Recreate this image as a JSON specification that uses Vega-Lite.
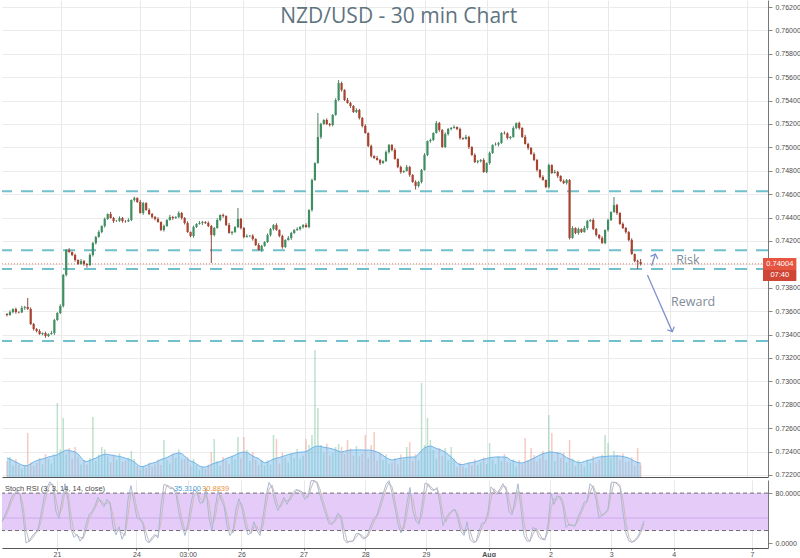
{
"$schema":"https://vega.github.io/schema/vega-lite/v6.json",
"padding":0,
"background":"white",
"spacing":0,
"config":{"view":{"stroke":null},"axis":{"labelFont":"Liberation Sans","labelColor":"#4d4d4d","title":null}},
"datasets":{"bars":[
{"u":0,"o":0.73575,"h":0.73583,"l":0.73555,"c":0.73567,"v":160,"m":190,"k":34,"d":36},
{"u":1,"o":0.73567,"h":0.73607,"l":0.73561,"c":0.73592,"v":200,"m":180,"k":45,"d":40},
{"u":2,"o":0.73592,"h":0.73623,"l":0.73582,"c":0.73618,"v":115,"m":165,"k":56,"d":51},
{"u":3,"o":0.73618,"h":0.73630,"l":0.73578,"c":0.73592,"v":180,"m":150,"k":71,"d":64},
{"u":4,"o":0.73592,"h":0.73598,"l":0.73581,"c":0.73589,"v":120,"m":135,"k":79,"d":75},
{"u":5,"o":0.73589,"h":0.73645,"l":0.73584,"c":0.73627,"v":80,"m":120,"k":84,"d":82},
{"u":6,"o":0.73627,"h":0.73645,"l":0.73611,"c":0.73635,"v":120,"m":112,"k":76,"d":80},
{"u":7,"o":0.73635,"h":0.73712,"l":0.73611,"c":0.73618,"v":440,"m":115,"k":45,"d":61},
{"u":8,"o":0.73618,"h":0.73632,"l":0.73481,"c":0.73490,"v":150,"m":130,"k":0,"d":23},
{"u":9,"o":0.73490,"h":0.73499,"l":0.73434,"c":0.73447,"v":110,"m":150,"k":3,"d":2},
{"u":10,"o":0.73447,"h":0.73455,"l":0.73418,"c":0.73430,"v":140,"m":165,"k":11,"d":7},
{"u":11,"o":0.73430,"h":0.73445,"l":0.73398,"c":0.73404,"v":190,"m":172,"k":16,"d":14},
{"u":12,"o":0.73404,"h":0.73418,"l":0.73394,"c":0.73413,"v":125,"m":180,"k":22,"d":19},
{"u":13,"o":0.73413,"h":0.73425,"l":0.73373,"c":0.73387,"v":230,"m":190,"k":46,"d":34},
{"u":14,"o":0.73387,"h":0.73410,"l":0.73379,"c":0.73404,"v":180,"m":200,"k":73,"d":60},
{"u":15,"o":0.73404,"h":0.73431,"l":0.73399,"c":0.73413,"v":135,"m":208,"k":89,"d":81},
{"u":16,"o":0.73413,"h":0.73534,"l":0.73397,"c":0.73524,"v":225,"m":215,"k":98,"d":94},
{"u":17,"o":0.73524,"h":0.73591,"l":0.73517,"c":0.73584,"v":740,"m":222,"k":90,"d":94},
{"u":18,"o":0.73584,"h":0.73658,"l":0.73575,"c":0.73644,"v":275,"m":240,"k":50,"d":70},
{"u":19,"o":0.73644,"h":0.73918,"l":0.73631,"c":0.73909,"v":590,"m":255,"k":39,"d":45},
{"u":20,"o":0.73909,"h":0.74131,"l":0.73897,"c":0.74123,"v":230,"m":270,"k":70,"d":55},
{"u":21,"o":0.74123,"h":0.74138,"l":0.74099,"c":0.74105,"v":290,"m":265,"k":95,"d":83},
{"u":22,"o":0.74105,"h":0.74110,"l":0.74070,"c":0.74080,"v":180,"m":258,"k":67,"d":81},
{"u":23,"o":0.74080,"h":0.74092,"l":0.74023,"c":0.74037,"v":300,"m":250,"k":22,"d":45},
{"u":24,"o":0.74037,"h":0.74043,"l":0.73995,"c":0.74003,"v":205,"m":230,"k":9,"d":16},
{"u":25,"o":0.74003,"h":0.74046,"l":0.73998,"c":0.74028,"v":125,"m":195,"k":14,"d":12},
{"u":26,"o":0.74028,"h":0.74038,"l":0.73987,"c":0.74003,"v":170,"m":160,"k":3,"d":9},
{"u":27,"o":0.74003,"h":0.74010,"l":0.73972,"c":0.73994,"v":125,"m":155,"k":10,"d":7},
{"u":28,"o":0.73994,"h":0.74094,"l":0.73985,"c":0.74080,"v":190,"m":165,"k":30,"d":20},
{"u":29,"o":0.74080,"h":0.74191,"l":0.74067,"c":0.74182,"v":600,"m":178,"k":45,"d":38},
{"u":30,"o":0.74182,"h":0.74242,"l":0.74170,"c":0.74234,"v":160,"m":190,"k":50,"d":48},
{"u":31,"o":0.74234,"h":0.74291,"l":0.74228,"c":0.74276,"v":225,"m":205,"k":60,"d":55},
{"u":32,"o":0.74276,"h":0.74333,"l":0.74266,"c":0.74328,"v":300,"m":218,"k":73,"d":67},
{"u":33,"o":0.74328,"h":0.74400,"l":0.74314,"c":0.74388,"v":275,"m":228,"k":65,"d":69},
{"u":34,"o":0.74388,"h":0.74436,"l":0.74380,"c":0.74430,"v":205,"m":226,"k":58,"d":62},
{"u":35,"o":0.74430,"h":0.74448,"l":0.74391,"c":0.74396,"v":145,"m":220,"k":70,"d":64},
{"u":36,"o":0.74396,"h":0.74406,"l":0.74354,"c":0.74370,"v":225,"m":214,"k":62,"d":66},
{"u":37,"o":0.74370,"h":0.74379,"l":0.74363,"c":0.74372,"v":170,"m":210,"k":26,"d":44},
{"u":38,"o":0.74372,"h":0.74410,"l":0.74363,"c":0.74396,"v":235,"m":205,"k":13,"d":20},
{"u":39,"o":0.74396,"h":0.74405,"l":0.74357,"c":0.74370,"v":150,"m":198,"k":26,"d":20},
{"u":40,"o":0.74370,"h":0.74378,"l":0.74356,"c":0.74368,"v":160,"m":188,"k":6,"d":16},
{"u":41,"o":0.74368,"h":0.74394,"l":0.74362,"c":0.74379,"v":195,"m":178,"k":17,"d":12},
{"u":42,"o":0.74379,"h":0.74555,"l":0.74369,"c":0.74550,"v":260,"m":168,"k":70,"d":44},
{"u":43,"o":0.74550,"h":0.74579,"l":0.74536,"c":0.74567,"v":180,"m":150,"k":92,"d":81},
{"u":44,"o":0.74567,"h":0.74573,"l":0.74525,"c":0.74533,"v":110,"m":125,"k":65,"d":79},
{"u":45,"o":0.74533,"h":0.74551,"l":0.74434,"c":0.74439,"v":70,"m":105,"k":40,"d":53},
{"u":46,"o":0.74439,"h":0.74534,"l":0.74423,"c":0.74524,"v":110,"m":105,"k":38,"d":39},
{"u":47,"o":0.74524,"h":0.74531,"l":0.74458,"c":0.74465,"v":90,"m":115,"k":30,"d":34},
{"u":48,"o":0.74465,"h":0.74479,"l":0.74421,"c":0.74430,"v":145,"m":128,"k":4,"d":17},
{"u":49,"o":0.74430,"h":0.74439,"l":0.74392,"c":0.74405,"v":105,"m":138,"k":0,"d":2},
{"u":50,"o":0.74405,"h":0.74413,"l":0.74376,"c":0.74388,"v":125,"m":145,"k":9,"d":5},
{"u":51,"o":0.74388,"h":0.74403,"l":0.74356,"c":0.74362,"v":175,"m":160,"k":14,"d":12},
{"u":52,"o":0.74362,"h":0.74367,"l":0.74284,"c":0.74294,"v":120,"m":175,"k":8,"d":11},
{"u":53,"o":0.74294,"h":0.74340,"l":0.74280,"c":0.74328,"v":370,"m":185,"k":60,"d":34},
{"u":54,"o":0.74328,"h":0.74385,"l":0.74320,"c":0.74379,"v":175,"m":195,"k":94,"d":77},
{"u":55,"o":0.74379,"h":0.74423,"l":0.74374,"c":0.74405,"v":135,"m":210,"k":92,"d":93},
{"u":56,"o":0.74405,"h":0.74415,"l":0.74380,"c":0.74396,"v":235,"m":225,"k":87,"d":90},
{"u":57,"o":0.74396,"h":0.74412,"l":0.74389,"c":0.74405,"v":190,"m":235,"k":88,"d":88},
{"u":58,"o":0.74405,"h":0.74453,"l":0.74396,"c":0.74439,"v":275,"m":240,"k":78,"d":83},
{"u":59,"o":0.74439,"h":0.74448,"l":0.74383,"c":0.74396,"v":175,"m":235,"k":48,"d":63},
{"u":60,"o":0.74396,"h":0.74404,"l":0.74341,"c":0.74353,"v":180,"m":210,"k":28,"d":38},
{"u":61,"o":0.74353,"h":0.74368,"l":0.74270,"c":0.74276,"v":200,"m":180,"k":12,"d":20},
{"u":62,"o":0.74276,"h":0.74281,"l":0.74232,"c":0.74242,"v":110,"m":160,"k":32,"d":22},
{"u":63,"o":0.74242,"h":0.74331,"l":0.74228,"c":0.74319,"v":180,"m":150,"k":64,"d":48},
{"u":64,"o":0.74319,"h":0.74351,"l":0.74311,"c":0.74345,"v":115,"m":130,"k":86,"d":75},
{"u":65,"o":0.74345,"h":0.74371,"l":0.74340,"c":0.74353,"v":70,"m":110,"k":80,"d":83},
{"u":66,"o":0.74353,"h":0.74372,"l":0.74337,"c":0.74362,"v":105,"m":100,"k":64,"d":72},
{"u":67,"o":0.74362,"h":0.74369,"l":0.74346,"c":0.74353,"v":80,"m":100,"k":65,"d":65},
{"u":68,"o":0.74353,"h":0.74367,"l":0.74319,"c":0.74328,"v":125,"m":110,"k":88,"d":77},
{"u":69,"o":0.74328,"h":0.74337,"l":0.74011,"c":0.74251,"v":250,"m":125,"k":40,"d":64},
{"u":70,"o":0.74251,"h":0.74319,"l":0.74239,"c":0.74311,"v":380,"m":138,"k":20,"d":30},
{"u":71,"o":0.74311,"h":0.74394,"l":0.74305,"c":0.74379,"v":160,"m":145,"k":55,"d":38},
{"u":72,"o":0.74379,"h":0.74427,"l":0.74369,"c":0.74422,"v":110,"m":155,"k":83,"d":69},
{"u":73,"o":0.74422,"h":0.74434,"l":0.74399,"c":0.74413,"v":200,"m":168,"k":70,"d":77},
{"u":74,"o":0.74413,"h":0.74419,"l":0.74328,"c":0.74336,"v":165,"m":185,"k":59,"d":65},
{"u":75,"o":0.74336,"h":0.74354,"l":0.74263,"c":0.74268,"v":125,"m":195,"k":28,"d":44},
{"u":76,"o":0.74268,"h":0.74286,"l":0.74252,"c":0.74276,"v":215,"m":205,"k":12,"d":20},
{"u":77,"o":0.74276,"h":0.74326,"l":0.74269,"c":0.74319,"v":175,"m":218,"k":20,"d":16},
{"u":78,"o":0.74319,"h":0.74482,"l":0.74310,"c":0.74388,"v":400,"m":235,"k":55,"d":38},
{"u":79,"o":0.74388,"h":0.74397,"l":0.74298,"c":0.74311,"v":185,"m":245,"k":71,"d":63},
{"u":80,"o":0.74311,"h":0.74319,"l":0.74222,"c":0.74234,"v":400,"m":250,"k":55,"d":63},
{"u":81,"o":0.74234,"h":0.74257,"l":0.74228,"c":0.74242,"v":270,"m":245,"k":30,"d":43},
{"u":82,"o":0.74242,"h":0.74250,"l":0.74232,"c":0.74245,"v":160,"m":230,"k":13,"d":22},
{"u":83,"o":0.74245,"h":0.74257,"l":0.74203,"c":0.74217,"v":250,"m":210,"k":17,"d":15},
{"u":84,"o":0.74217,"h":0.74223,"l":0.74157,"c":0.74165,"v":175,"m":195,"k":34,"d":26},
{"u":85,"o":0.74165,"h":0.74183,"l":0.74118,"c":0.74123,"v":120,"m":185,"k":20,"d":27},
{"u":86,"o":0.74123,"h":0.74167,"l":0.74107,"c":0.74157,"v":170,"m":160,"k":12,"d":16},
{"u":87,"o":0.74157,"h":0.74198,"l":0.74150,"c":0.74191,"v":115,"m":142,"k":42,"d":27},
{"u":88,"o":0.74191,"h":0.74265,"l":0.74182,"c":0.74251,"v":170,"m":148,"k":75,"d":59},
{"u":89,"o":0.74251,"h":0.74311,"l":0.74238,"c":0.74302,"v":125,"m":165,"k":97,"d":86},
{"u":90,"o":0.74302,"h":0.74344,"l":0.74290,"c":0.74336,"v":420,"m":180,"k":88,"d":93},
{"u":91,"o":0.74336,"h":0.74351,"l":0.74288,"c":0.74294,"v":380,"m":188,"k":65,"d":77},
{"u":92,"o":0.74294,"h":0.74299,"l":0.74232,"c":0.74242,"v":135,"m":195,"k":52,"d":59},
{"u":93,"o":0.74242,"h":0.74254,"l":0.74134,"c":0.74148,"v":245,"m":205,"k":63,"d":58},
{"u":94,"o":0.74148,"h":0.74214,"l":0.74140,"c":0.74208,"v":195,"m":215,"k":73,"d":68},
{"u":95,"o":0.74208,"h":0.74243,"l":0.74203,"c":0.74225,"v":145,"m":225,"k":62,"d":68},
{"u":96,"o":0.74225,"h":0.74278,"l":0.74209,"c":0.74268,"v":240,"m":230,"k":73,"d":68},
{"u":97,"o":0.74268,"h":0.74301,"l":0.74261,"c":0.74294,"v":190,"m":238,"k":81,"d":77},
{"u":98,"o":0.74294,"h":0.74316,"l":0.74285,"c":0.74302,"v":280,"m":245,"k":86,"d":84},
{"u":99,"o":0.74302,"h":0.74328,"l":0.74289,"c":0.74319,"v":185,"m":248,"k":83,"d":85},
{"u":100,"o":0.74319,"h":0.74344,"l":0.74307,"c":0.74336,"v":215,"m":250,"k":80,"d":82},
{"u":101,"o":0.74336,"h":0.74351,"l":0.74313,"c":0.74319,"v":380,"m":255,"k":70,"d":75},
{"u":102,"o":0.74319,"h":0.74470,"l":0.74309,"c":0.74465,"v":320,"m":270,"k":75,"d":73},
{"u":103,"o":0.74465,"h":0.74733,"l":0.74451,"c":0.74721,"v":420,"m":290,"k":100,"d":88},
{"u":104,"o":0.74721,"h":0.74872,"l":0.74713,"c":0.74866,"v":1270,"m":305,"k":100,"d":100},
{"u":105,"o":0.74866,"h":0.75294,"l":0.74861,"c":0.75089,"v":690,"m":310,"k":95,"d":98},
{"u":106,"o":0.75089,"h":0.75210,"l":0.75073,"c":0.75200,"v":320,"m":305,"k":76,"d":86},
{"u":107,"o":0.75200,"h":0.75241,"l":0.75193,"c":0.75234,"v":240,"m":298,"k":60,"d":68},
{"u":108,"o":0.75234,"h":0.75248,"l":0.75191,"c":0.75200,"v":335,"m":292,"k":45,"d":53},
{"u":109,"o":0.75200,"h":0.75209,"l":0.75178,"c":0.75191,"v":215,"m":288,"k":31,"d":38},
{"u":110,"o":0.75191,"h":0.75285,"l":0.75179,"c":0.75277,"v":240,"m":280,"k":30,"d":31},
{"u":111,"o":0.75277,"h":0.75420,"l":0.75271,"c":0.75405,"v":300,"m":270,"k":38,"d":34},
{"u":112,"o":0.75405,"h":0.75576,"l":0.75395,"c":0.75550,"v":330,"m":258,"k":48,"d":43},
{"u":113,"o":0.75550,"h":0.75562,"l":0.75477,"c":0.75491,"v":300,"m":250,"k":40,"d":44},
{"u":114,"o":0.75491,"h":0.75497,"l":0.75397,"c":0.75405,"v":230,"m":258,"k":6,"d":23},
{"u":115,"o":0.75405,"h":0.75423,"l":0.75374,"c":0.75379,"v":370,"m":265,"k":0,"d":3},
{"u":116,"o":0.75379,"h":0.75389,"l":0.75338,"c":0.75354,"v":285,"m":270,"k":3,"d":2},
{"u":117,"o":0.75354,"h":0.75361,"l":0.75295,"c":0.75302,"v":215,"m":270,"k":3,"d":3},
{"u":118,"o":0.75302,"h":0.75334,"l":0.75293,"c":0.75320,"v":310,"m":270,"k":15,"d":9},
{"u":119,"o":0.75320,"h":0.75329,"l":0.75238,"c":0.75251,"v":205,"m":272,"k":15,"d":15},
{"u":120,"o":0.75251,"h":0.75259,"l":0.75171,"c":0.75183,"v":230,"m":270,"k":8,"d":12},
{"u":121,"o":0.75183,"h":0.75198,"l":0.75117,"c":0.75123,"v":420,"m":268,"k":7,"d":8},
{"u":122,"o":0.75123,"h":0.75128,"l":0.75002,"c":0.75012,"v":190,"m":270,"k":15,"d":11},
{"u":123,"o":0.75012,"h":0.75024,"l":0.74912,"c":0.74926,"v":320,"m":268,"k":29,"d":22},
{"u":124,"o":0.74926,"h":0.74932,"l":0.74901,"c":0.74909,"v":450,"m":260,"k":39,"d":34},
{"u":125,"o":0.74909,"h":0.74927,"l":0.74887,"c":0.74892,"v":165,"m":250,"k":45,"d":42},
{"u":126,"o":0.74892,"h":0.74902,"l":0.74850,"c":0.74866,"v":245,"m":235,"k":62,"d":54},
{"u":127,"o":0.74866,"h":0.74890,"l":0.74859,"c":0.74883,"v":170,"m":215,"k":78,"d":70},
{"u":128,"o":0.74883,"h":0.74974,"l":0.74874,"c":0.74960,"v":225,"m":195,"k":94,"d":86},
{"u":129,"o":0.74960,"h":0.75029,"l":0.74947,"c":0.75020,"v":135,"m":178,"k":100,"d":97},
{"u":130,"o":0.75020,"h":0.75028,"l":0.74966,"c":0.74978,"v":145,"m":170,"k":80,"d":90},
{"u":131,"o":0.74978,"h":0.74993,"l":0.74895,"c":0.74901,"v":190,"m":175,"k":56,"d":68},
{"u":132,"o":0.74901,"h":0.74906,"l":0.74822,"c":0.74832,"v":125,"m":182,"k":30,"d":43},
{"u":133,"o":0.74832,"h":0.74844,"l":0.74775,"c":0.74789,"v":225,"m":188,"k":16,"d":23},
{"u":134,"o":0.74789,"h":0.74804,"l":0.74781,"c":0.74798,"v":175,"m":192,"k":30,"d":23},
{"u":135,"o":0.74798,"h":0.74850,"l":0.74793,"c":0.74832,"v":300,"m":196,"k":65,"d":48},
{"u":136,"o":0.74832,"h":0.74842,"l":0.74748,"c":0.74764,"v":350,"m":198,"k":89,"d":77},
{"u":137,"o":0.74764,"h":0.74771,"l":0.74697,"c":0.74704,"v":160,"m":200,"k":50,"d":70},
{"u":138,"o":0.74704,"h":0.74718,"l":0.74640,"c":0.74670,"v":230,"m":200,"k":35,"d":43},
{"u":139,"o":0.74670,"h":0.74713,"l":0.74657,"c":0.74704,"v":170,"m":230,"k":30,"d":33},
{"u":140,"o":0.74704,"h":0.74815,"l":0.74692,"c":0.74807,"v":940,"m":265,"k":60,"d":45},
{"u":141,"o":0.74807,"h":0.74950,"l":0.74801,"c":0.74935,"v":320,"m":290,"k":96,"d":78},
{"u":142,"o":0.74935,"h":0.75059,"l":0.74925,"c":0.75054,"v":590,"m":305,"k":94,"d":95},
{"u":143,"o":0.75054,"h":0.75075,"l":0.75040,"c":0.75063,"v":370,"m":310,"k":86,"d":90},
{"u":144,"o":0.75063,"h":0.75129,"l":0.75055,"c":0.75123,"v":270,"m":300,"k":84,"d":85},
{"u":145,"o":0.75123,"h":0.75226,"l":0.75118,"c":0.75208,"v":185,"m":285,"k":89,"d":87},
{"u":146,"o":0.75208,"h":0.75218,"l":0.75133,"c":0.75149,"v":290,"m":275,"k":62,"d":76},
{"u":147,"o":0.75149,"h":0.75156,"l":0.74996,"c":0.75003,"v":210,"m":265,"k":28,"d":45},
{"u":148,"o":0.75003,"h":0.75128,"l":0.74994,"c":0.75114,"v":290,"m":250,"k":40,"d":34},
{"u":149,"o":0.75114,"h":0.75166,"l":0.75101,"c":0.75157,"v":170,"m":225,"k":47,"d":44},
{"u":150,"o":0.75157,"h":0.75174,"l":0.75145,"c":0.75166,"v":300,"m":200,"k":52,"d":50},
{"u":151,"o":0.75166,"h":0.75189,"l":0.75160,"c":0.75174,"v":185,"m":170,"k":54,"d":53},
{"u":152,"o":0.75174,"h":0.75179,"l":0.75147,"c":0.75157,"v":100,"m":140,"k":38,"d":46},
{"u":153,"o":0.75157,"h":0.75169,"l":0.75066,"c":0.75080,"v":145,"m":122,"k":18,"d":28},
{"u":154,"o":0.75080,"h":0.75086,"l":0.75064,"c":0.75072,"v":110,"m":125,"k":12,"d":15},
{"u":155,"o":0.75072,"h":0.75107,"l":0.75067,"c":0.75089,"v":85,"m":132,"k":34,"d":23},
{"u":156,"o":0.75089,"h":0.75099,"l":0.74987,"c":0.75003,"v":145,"m":140,"k":6,"d":20},
{"u":157,"o":0.75003,"h":0.75010,"l":0.74928,"c":0.74935,"v":115,"m":145,"k":1,"d":4},
{"u":158,"o":0.74935,"h":0.74949,"l":0.74866,"c":0.74875,"v":175,"m":152,"k":2,"d":2},
{"u":159,"o":0.74875,"h":0.74892,"l":0.74862,"c":0.74883,"v":120,"m":160,"k":20,"d":11},
{"u":160,"o":0.74883,"h":0.74900,"l":0.74871,"c":0.74892,"v":145,"m":170,"k":32,"d":26},
{"u":161,"o":0.74892,"h":0.74907,"l":0.74783,"c":0.74789,"v":195,"m":178,"k":33,"d":33},
{"u":162,"o":0.74789,"h":0.74871,"l":0.74779,"c":0.74866,"v":130,"m":185,"k":50,"d":42},
{"u":163,"o":0.74866,"h":0.74964,"l":0.74852,"c":0.74952,"v":340,"m":192,"k":90,"d":70},
{"u":164,"o":0.74952,"h":0.75026,"l":0.74944,"c":0.75020,"v":175,"m":197,"k":84,"d":87},
{"u":165,"o":0.75020,"h":0.75042,"l":0.75015,"c":0.75024,"v":130,"m":200,"k":78,"d":81},
{"u":166,"o":0.75024,"h":0.75047,"l":0.75008,"c":0.75037,"v":210,"m":200,"k":87,"d":83},
{"u":167,"o":0.75037,"h":0.75130,"l":0.75030,"c":0.75123,"v":160,"m":200,"k":95,"d":91},
{"u":168,"o":0.75123,"h":0.75137,"l":0.75111,"c":0.75120,"v":230,"m":200,"k":85,"d":90},
{"u":169,"o":0.75120,"h":0.75129,"l":0.75067,"c":0.75080,"v":145,"m":195,"k":50,"d":68},
{"u":170,"o":0.75080,"h":0.75097,"l":0.75068,"c":0.75089,"v":145,"m":170,"k":45,"d":48},
{"u":171,"o":0.75089,"h":0.75181,"l":0.75083,"c":0.75166,"v":175,"m":160,"k":70,"d":58},
{"u":172,"o":0.75166,"h":0.75213,"l":0.75156,"c":0.75208,"v":105,"m":150,"k":95,"d":83},
{"u":173,"o":0.75208,"h":0.75220,"l":0.75152,"c":0.75166,"v":170,"m":142,"k":55,"d":75},
{"u":174,"o":0.75166,"h":0.75172,"l":0.75081,"c":0.75089,"v":125,"m":140,"k":12,"d":34},
{"u":175,"o":0.75089,"h":0.75107,"l":0.75024,"c":0.75029,"v":390,"m":150,"k":3,"d":8},
{"u":176,"o":0.75029,"h":0.75039,"l":0.74979,"c":0.74995,"v":170,"m":162,"k":3,"d":3},
{"u":177,"o":0.74995,"h":0.75002,"l":0.74936,"c":0.74943,"v":290,"m":175,"k":25,"d":14},
{"u":178,"o":0.74943,"h":0.74957,"l":0.74883,"c":0.74892,"v":220,"m":190,"k":22,"d":24},
{"u":179,"o":0.74892,"h":0.74901,"l":0.74794,"c":0.74807,"v":155,"m":205,"k":9,"d":16},
{"u":180,"o":0.74807,"h":0.74815,"l":0.74735,"c":0.74747,"v":185,"m":220,"k":6,"d":8},
{"u":181,"o":0.74747,"h":0.74762,"l":0.74715,"c":0.74721,"v":260,"m":235,"k":5,"d":6},
{"u":182,"o":0.74721,"h":0.74726,"l":0.74651,"c":0.74661,"v":170,"m":240,"k":30,"d":18},
{"u":183,"o":0.74661,"h":0.74861,"l":0.74647,"c":0.74849,"v":620,"m":250,"k":80,"d":55},
{"u":184,"o":0.74849,"h":0.74855,"l":0.74773,"c":0.74781,"v":440,"m":250,"k":62,"d":71},
{"u":185,"o":0.74781,"h":0.74807,"l":0.74776,"c":0.74789,"v":160,"m":245,"k":76,"d":69},
{"u":186,"o":0.74789,"h":0.74799,"l":0.74739,"c":0.74755,"v":250,"m":240,"k":73,"d":75},
{"u":187,"o":0.74755,"h":0.74762,"l":0.74705,"c":0.74712,"v":190,"m":235,"k":60,"d":67},
{"u":188,"o":0.74712,"h":0.74726,"l":0.74686,"c":0.74695,"v":245,"m":215,"k":25,"d":43},
{"u":189,"o":0.74695,"h":0.74730,"l":0.74682,"c":0.74721,"v":145,"m":195,"k":30,"d":28},
{"u":190,"o":0.74721,"h":0.74729,"l":0.74213,"c":0.74225,"v":370,"m":180,"k":28,"d":29},
{"u":191,"o":0.74225,"h":0.74326,"l":0.74219,"c":0.74311,"v":185,"m":168,"k":27,"d":28},
{"u":192,"o":0.74311,"h":0.74316,"l":0.74258,"c":0.74268,"v":110,"m":155,"k":42,"d":35},
{"u":193,"o":0.74268,"h":0.74314,"l":0.74254,"c":0.74302,"v":170,"m":142,"k":52,"d":47},
{"u":194,"o":0.74302,"h":0.74308,"l":0.74268,"c":0.74276,"v":130,"m":145,"k":65,"d":59},
{"u":195,"o":0.74276,"h":0.74329,"l":0.74271,"c":0.74311,"v":100,"m":155,"k":67,"d":66},
{"u":196,"o":0.74311,"h":0.74380,"l":0.74295,"c":0.74370,"v":175,"m":165,"k":95,"d":81},
{"u":197,"o":0.74370,"h":0.74386,"l":0.74363,"c":0.74379,"v":140,"m":172,"k":89,"d":92},
{"u":198,"o":0.74379,"h":0.74393,"l":0.74293,"c":0.74302,"v":210,"m":182,"k":70,"d":80},
{"u":199,"o":0.74302,"h":0.74311,"l":0.74238,"c":0.74251,"v":145,"m":195,"k":40,"d":55},
{"u":200,"o":0.74251,"h":0.74259,"l":0.74213,"c":0.74225,"v":170,"m":200,"k":45,"d":43},
{"u":201,"o":0.74225,"h":0.74240,"l":0.74176,"c":0.74182,"v":225,"m":203,"k":48,"d":47},
{"u":202,"o":0.74182,"h":0.74299,"l":0.74172,"c":0.74294,"v":420,"m":205,"k":55,"d":52},
{"u":203,"o":0.74294,"h":0.74391,"l":0.74280,"c":0.74379,"v":340,"m":208,"k":96,"d":76},
{"u":204,"o":0.74379,"h":0.74453,"l":0.74371,"c":0.74447,"v":190,"m":210,"k":98,"d":97},
{"u":205,"o":0.74447,"h":0.74576,"l":0.74442,"c":0.74507,"v":260,"m":210,"k":95,"d":97},
{"u":206,"o":0.74507,"h":0.74517,"l":0.74423,"c":0.74439,"v":220,"m":210,"k":89,"d":92},
{"u":207,"o":0.74439,"h":0.74446,"l":0.74338,"c":0.74345,"v":170,"m":210,"k":48,"d":69},
{"u":208,"o":0.74345,"h":0.74359,"l":0.74302,"c":0.74311,"v":235,"m":205,"k":15,"d":32},
{"u":209,"o":0.74311,"h":0.74320,"l":0.74263,"c":0.74276,"v":150,"m":198,"k":3,"d":9},
{"u":210,"o":0.74276,"h":0.74284,"l":0.74196,"c":0.74208,"v":160,"m":190,"k":1,"d":2},
{"u":211,"o":0.74208,"h":0.74223,"l":0.74082,"c":0.74088,"v":195,"m":175,"k":5,"d":3},
{"u":212,"o":0.74088,"h":0.74093,"l":0.74018,"c":0.74028,"v":110,"m":158,"k":11,"d":8},
{"u":213,"o":0.74028,"h":0.74040,"l":0.73960,"c":0.74020,"v":290,"m":145,"k":22,"d":17},
{"u":214,"o":0.74020,"h":0.74046,"l":0.73990,"c":0.74004,"v":125,"m":140,"k":35.31,"d":30.88}
]},
"vconcat":[
{
"width":766,"height":477,
"resolve":{"scale":{"y":"independent"}},
"layer":[
{"layer":[
{"data":{"name":"bars"},
 "mark":{"type":"bar","size":1.5,"opacity":0.55},
 "encoding":{
  "x":{"field":"u","type":"quantitative","scale":{"domain":[0,255.33],"nice":false,"zero":false},
       "axis":{"values":[18.3,44.8,61.9,79.8,100.5,121.1,141.3,162.2,182.8,203.1,223.9,250],"labels":false,"ticks":false,"domain":true,"domainColor":"#555","grid":true,"gridColor":"#e8e8e8","title":null}},
  "y":{"field":"v","type":"quantitative","scale":{"domain":[0,4770],"nice":false,"zero":false},"axis":null},
  "color":{"condition":{"test":"datum.c >= datum.o","value":"#86c9a2"},"value":"#ee9e8e"}}},
{"data":{"name":"bars"},
 "mark":{"type":"area","color":"#7cbdee","opacity":0.5,"line":{"color":"#6fb4e8","strokeWidth":1}},
 "encoding":{
  "x":{"field":"u","type":"quantitative","scale":{"domain":[0,255.33],"nice":false,"zero":false}},
  "y":{"field":"m","type":"quantitative","scale":{"domain":[0,4770],"nice":false,"zero":false},"axis":null}}}
]},
{"encoding":{"y":{"type":"quantitative","scale":{"domain":[0.72182,0.7626],"nice":false,"zero":false},
   "axis":{"orient":"right","values":[0.722,0.724,0.726,0.728,0.73,0.732,0.734,0.736,0.738,0.74,0.742,0.744,0.746,0.748,0.75,0.752,0.754,0.756,0.758,0.76,0.762],
     "labelExpr":"abs(datum.value-0.74)<0.0005 ? '' : format(datum.value,'.5f')","labelFontSize":7,"tickSize":4,"tickColor":"#888","labelPadding":3,
     "grid":true,"gridColor":"#ebebeb","domain":true,"domainColor":"#777","labelOverlap":false,"title":null}}},
 "layer":[
{"data":{"values":[{"p":0.74625},{"p":0.74121},{"p":0.73961},{"p":0.73345}]},
 "mark":{"type":"rule","color":"#72c0cc","strokeWidth":2,"strokeDash":[12,9]},
 "encoding":{"y":{"field":"p"}}},
{"data":{"values":[{"p":0.74004}]},
 "mark":{"type":"rule","color":"#e87a72","strokeWidth":1,"strokeDash":[1,2]},
 "encoding":{"y":{"field":"p"}}},
{"data":{"name":"bars"},
 "mark":{"type":"rule","strokeWidth":1},
 "encoding":{
  "x":{"field":"u","type":"quantitative","scale":{"domain":[0,255.33],"nice":false,"zero":false}},
  "y":{"field":"l"},
  "y2":{"field":"h"},
  "color":{"condition":{"test":"datum.c >= datum.o","value":"#4f7d63"},"value":"#8a4a40"}}},
{"data":{"name":"bars"},
 "mark":{"type":"bar","size":2.2},
 "encoding":{
  "x":{"field":"u","type":"quantitative","scale":{"domain":[0,255.33],"nice":false,"zero":false}},
  "y":{"field":"o"},
  "y2":{"field":"c"},
  "color":{"condition":{"test":"datum.c >= datum.o","value":"#3f8f62"},"value":"#a8432f"}}},
{"data":{"values":[{"x1":217.7,"y1":0.73988,"x2":219.0,"y2":0.74088},{"x1":216.3,"y1":0.73909,"x2":224.7,"y2":0.73424}]},
 "mark":{"type":"rule","color":"#7d8fcc","strokeWidth":1.3},
 "encoding":{
  "x":{"field":"x1","type":"quantitative","scale":{"domain":[0,255.33],"nice":false,"zero":false}},
  "x2":{"field":"x2"},
  "y":{"field":"y1"},
  "y2":{"field":"y2"}}},
{"data":{"values":[{"x":219.0,"y":0.74088}]},
 "mark":{"type":"point","shape":"M -1 1 L 0 0 L 1 1","filled":false,"color":"#7d8fcc","strokeWidth":1.3,"size":60,"angle":19,"opacity":1},
 "encoding":{
  "x":{"field":"x","type":"quantitative","scale":{"domain":[0,255.33],"nice":false,"zero":false}},
  "y":{"field":"y"}}},
{"data":{"values":[{"x":224.7,"y":0.73424}]},
 "mark":{"type":"point","shape":"M -1 1 L 0 0 L 1 1","filled":false,"color":"#7d8fcc","strokeWidth":1.3,"size":60,"angle":156,"opacity":1},
 "encoding":{
  "x":{"field":"x","type":"quantitative","scale":{"domain":[0,255.33],"nice":false,"zero":false}},
  "y":{"field":"y"}}},
{"data":{"values":[{"x":226,"y":0.74037,"t":"Risk"},{"x":224.3,"y":0.73678,"t":"Reward"}]},
 "mark":{"type":"text","align":"left","baseline":"middle","font":"Open Sans","fontSize":12.5,"color":"#7f8c99"},
 "encoding":{
  "x":{"field":"x","type":"quantitative","scale":{"domain":[0,255.33],"nice":false,"zero":false}},
  "y":{"field":"y"},
  "text":{"field":"t"}}},
{"data":{"values":[{"x":132.3,"y":0.76115,"t":"NZD/USD - 30 min Chart"}]},
 "mark":{"type":"text","align":"center","baseline":"middle","font":"Open Sans","fontSize":21,"color":"#607480"},
 "encoding":{
  "x":{"field":"x","type":"quantitative","scale":{"domain":[0,255.33],"nice":false,"zero":false}},
  "y":{"field":"y"},
  "text":{"field":"t"}}},
{"data":{"values":[{"a":255.33,"b":266.6,"top":0.74055,"bot":0.73952,"g":"p"},{"a":255.33,"b":266.6,"top":0.73952,"bot":0.73858,"g":"t"}]},
 "mark":{"type":"rect"},
 "encoding":{
  "x":{"field":"a","type":"quantitative","scale":{"domain":[0,255.33],"nice":false,"zero":false}},
  "x2":{"field":"b"},
  "y":{"field":"top"},
  "y2":{"field":"bot"},
  "color":{"condition":{"test":"datum.g == 'p'","value":"#e5553f"},"value":"#cf4536"}}},
{"data":{"values":[{"x":261.0,"y":0.74004,"t":"0.74004"},{"x":261.0,"y":0.73905,"t":"07:40"}]},
 "mark":{"type":"text","align":"center","baseline":"middle","font":"Liberation Sans","fontSize":7.5,"color":"white"},
 "encoding":{
  "x":{"field":"x","type":"quantitative","scale":{"domain":[0,255.33],"nice":false,"zero":false}},
  "y":{"field":"y"},
  "text":{"field":"t"}}}
]}
]
},
{
"width":766,"height":68,
"layer":[
{"data":{"values":[{"a":0,"b":255.33,"lo":20,"hi":80}]},
 "mark":{"type":"rect","color":"#e4cbf8"},
 "encoding":{
  "x":{"field":"a","type":"quantitative","scale":{"domain":[0,255.33],"nice":false,"zero":false},
   "axis":{"values":[18.3,44.8,61.9,79.8,100.5,121.1,141.3,162.2,182.8,203.1,223.9,250],
     "labelExpr":"datum.value < 30 ? '21' : datum.value < 50 ? '24' : datum.value < 70 ? '03:00' : datum.value < 90 ? '26' : datum.value < 110 ? '27' : datum.value < 130 ? '28' : datum.value < 150 ? '29' : datum.value < 170 ? 'Aug' : datum.value < 190 ? '2' : datum.value < 210 ? '3' : datum.value < 235 ? '4' : '7'",
     "labelFontWeight":{"condition":{"test":"datum.value > 160 && datum.value < 165","value":"bold"},"value":"normal"},
     "labelFontSize":7,"tickSize":2,"tickColor":"#777","labelPadding":0,"domainColor":"#555","grid":true,"gridColor":"#e8e8e8","labelOverlap":false,"title":null}},
  "x2":{"field":"b"},
  "y":{"field":"lo","type":"quantitative","scale":{"domain":[-8,101],"nice":false,"zero":false},
   "axis":{"orient":"right","values":[0,40,80],"format":".4f","labelFontSize":7,"tickSize":4,"tickColor":"#888","labelPadding":3,"grid":false,"domainColor":"#777","title":null}},
  "y2":{"field":"hi"}}},
{"data":{"values":[{"s":40}]},
 "mark":{"type":"rule","color":"#cfaaf0","strokeWidth":1},
 "encoding":{"y":{"field":"s","type":"quantitative","scale":{"domain":[-8,101],"nice":false,"zero":false}}}},
{"data":{"values":[{"s":20},{"s":80}]},
 "mark":{"type":"rule","color":"#6f6f6f","strokeWidth":1,"strokeDash":[4,3]},
 "encoding":{"y":{"field":"s","type":"quantitative","scale":{"domain":[-8,101],"nice":false,"zero":false}}}},
{"data":{"name":"bars"},
 "mark":{"type":"line","color":"#cdbab8","strokeWidth":1},
 "encoding":{
  "x":{"field":"u","type":"quantitative","scale":{"domain":[0,255.33],"nice":false,"zero":false}},
  "y":{"field":"d","type":"quantitative","scale":{"domain":[-8,101],"nice":false,"zero":false}}}},
{"data":{"name":"bars"},
 "mark":{"type":"line","color":"#a9b8d2","strokeWidth":1},
 "encoding":{
  "x":{"field":"u","type":"quantitative","scale":{"domain":[0,255.33],"nice":false,"zero":false}},
  "y":{"field":"k","type":"quantitative","scale":{"domain":[-8,101],"nice":false,"zero":false}}}},
{"data":{"values":[{"x":1,"y":87,"t":"Stoch RSI (3, 3, 14, 14, close)"}]},
 "mark":{"type":"text","align":"left","baseline":"middle","font":"Liberation Sans","fontSize":7.5,"color":"#4a4a4a"},
 "encoding":{
  "x":{"field":"x","type":"quantitative","scale":{"domain":[0,255.33],"nice":false,"zero":false}},
  "y":{"field":"y","type":"quantitative","scale":{"domain":[-8,101],"nice":false,"zero":false}},
  "text":{"field":"t"}}},
{"data":{"values":[{"x":57.3,"y":87,"t":"35.3100"}]},
 "mark":{"type":"text","align":"left","baseline":"middle","font":"Liberation Sans","fontSize":7.5,"color":"#4a9ed6"},
 "encoding":{
  "x":{"field":"x","type":"quantitative","scale":{"domain":[0,255.33],"nice":false,"zero":false}},
  "y":{"field":"y","type":"quantitative","scale":{"domain":[-8,101],"nice":false,"zero":false}},
  "text":{"field":"t"}}},
{"data":{"values":[{"x":66.7,"y":87,"t":"30.8839"}]},
 "mark":{"type":"text","align":"left","baseline":"middle","font":"Liberation Sans","fontSize":7.5,"color":"#e8933a"},
 "encoding":{
  "x":{"field":"x","type":"quantitative","scale":{"domain":[0,255.33],"nice":false,"zero":false}},
  "y":{"field":"y","type":"quantitative","scale":{"domain":[-8,101],"nice":false,"zero":false}},
  "text":{"field":"t"}}}
]
}
]
}
